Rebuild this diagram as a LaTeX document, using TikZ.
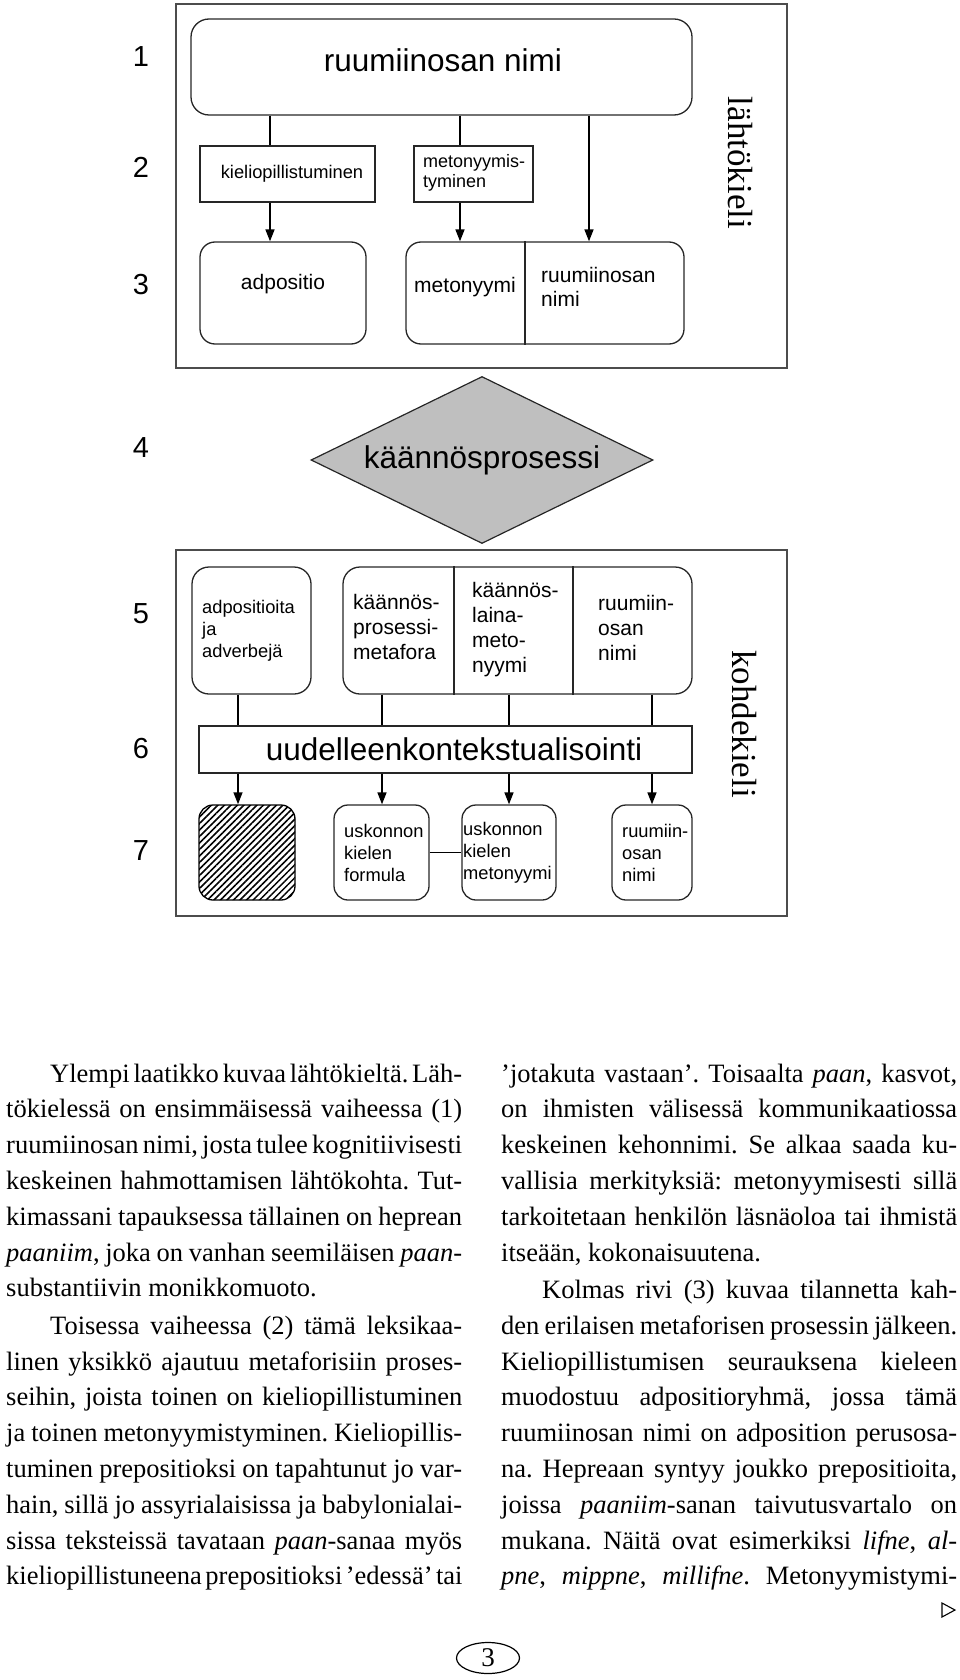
\documentclass[tikz,border=0pt]{standalone}
\usepackage{fontspec}
\setmainfont{Liberation Serif}
\newfontfamily\sansf{Liberation Sans}
\usetikzlibrary{arrows.meta,shapes.geometric,patterns.meta}
\newlength\colw
\newcommand\jline[1]{\hbox to\colw{#1}}
\newcommand\lline[1]{\hbox{#1}}
\newcommand\mkbox[6]{\node[#6, minimum width={#4-#2}, minimum height={#5-#3}] (#1) at ({(#2+#4)/2},{(#3+#5)/2}) {};}
\newcommand\bodyset{\fontsize{26.5}{35.8}\selectfont\frenchspacing\spaceskip=0.25em plus 0.5em minus 0.12em\baselineskip=35.8pt\colw=456pt}
\begin{document}
\begin{tikzpicture}[x=1pt,y=-1pt,
  bx/.style={draw=black!85,line width=1.3pt,inner sep=0pt},
  rbx/.style={bx,rounded corners=15pt},
  frame/.style={draw=black!70,line width=1.3pt,inner sep=0pt},
  ln/.style={line width=1.6pt},
  arr/.style={line width=1.6pt,-{Triangle[length=12pt,width=9pt]}},
  big/.style={inner sep=0pt,font=\sansf\fontsize{31.5}{36}\selectfont},
  num/.style={inner sep=0pt,font=\sansf\fontsize{29}{32}\selectfont},
  mid/.style={inner sep=0pt,align=left,font=\sansf\fontsize{21}{25}\selectfont},
  sml/.style={inner sep=0pt,align=left,font=\sansf\fontsize{18.3}{22}\selectfont},
  side/.style={inner sep=0pt,rotate=-90,font=\fontsize{35}{40}\selectfont}]
\useasboundingbox (0,0) rectangle (960,1680);

% ---------- upper frame (source language)
\mkbox{ftop}{176}{4}{787}{368}{frame}
\mkbox{top}{191}{19}{692}{115}{rbx,rounded corners=18pt}
\node[big] (toptx) at (443,60) {ruumiinosan nimi};
\mkbox{kiel}{200}{146}{375}{202}{bx}
\node[sml] (kieltx) at (292,174) {kieliopillistuminen};
\mkbox{meto}{414}{146}{533}{202}{bx}
\node[sml,anchor=west,font=\sansf\fontsize{18}{20}\selectfont] (metotx) at (423,173) {metonyymis-\\tyminen};
\mkbox{adpo}{200}{242}{366}{344}{rbx}
\node[mid] (adpotx) at (283,284) {adpositio};
\mkbox{mr}{406}{242}{684}{344}{rbx}
\coordinate (dA) at (525,0);
\draw[bx] (mr.north -| dA) -- (mr.south -| dA);
\node[mid] (mrtxa) at (465,287) {metonyymi};
\node[mid,anchor=west,font=\sansf\fontsize{21}{24}\selectfont] (mrtxb) at (541,287) {ruumiinosan\\nimi};
\coordinate (xa) at (270,0);
\coordinate (xb) at (460,0);
\coordinate (xc) at (589,0);
\draw[ln] (top.south -| xa) -- (kiel.north -| xa);
\draw[ln] (top.south -| xb) -- (meto.north -| xb);
\draw[arr] (kiel.south -| xa) -- (adpo.north -| xa);
\draw[arr] (meto.south -| xb) -- (mr.north -| xb);
\draw[arr] (top.south -| xc) -- (mr.north -| xc);
\node[side] (lahto) at (740,163) {lähtökieli};
\node[num] (n1) at (141,57) {1};
\node[num] (n2) at (141,167) {2};
\node[num] (n3) at (141,285) {3};

% ---------- diamond
\node[diamond,draw=black!85,fill=black!25,line width=1.2pt,shape aspect=2.05,
  minimum width=342pt,minimum height=167pt,inner sep=0pt,
  font=\sansf\fontsize{31.5}{36}\selectfont] (kp) at (482,460) {käännösprosessi};
\node[num] (n4) at (141,448) {4};

% ---------- lower frame (target language)
\mkbox{fbot}{176}{550}{787}{916}{frame}
\mkbox{ra}{192}{567}{311}{694}{rbx,rounded corners=17pt}
\node[sml,anchor=west] (ratx) at (202,631) {adpositioita\\ja\\adverbejä};
\mkbox{rb}{343}{567}{692}{694}{rbx,rounded corners=17pt}
\coordinate (dB) at (454,0);
\coordinate (dC) at (573,0);
\draw[bx] (rb.north -| dB) -- (rb.south -| dB);
\draw[bx] (rb.north -| dC) -- (rb.south -| dC);
\node[mid,anchor=west] (rbtxa) at (353,627) {käännös-\\prosessi-\\metafora};
\node[mid,anchor=west] (rbtxb) at (472,630) {käännös-\\laina-\\meto-\\nyymi};
\node[mid,anchor=west] (rbtxc) at (598,628) {ruumiin-\\osan\\nimi};
\mkbox{uu}{199}{726}{692}{773}{bx}
\node[big] (uutx) at (454,749) {uudelleenkontekstualisointi};
\mkbox{hh}{199}{805}{295}{900}{rbx,rounded corners=14pt,draw=black,pattern={Lines[angle=45,distance=4.6pt,line width=1.5pt]}}
\mkbox{ff}{334}{805}{429}{900}{rbx,rounded corners=14pt}
\node[sml,anchor=west] (fftx) at (344,853) {uskonnon\\kielen\\formula};
\mkbox{mm}{462}{805}{556}{900}{rbx,rounded corners=14pt}
\node[sml,anchor=west] (mmtx) at (463,853) {uskonnon\\kielen\\metonyymi};
\mkbox{rr}{612}{805}{692}{900}{rbx,rounded corners=14pt}
\node[sml,anchor=west] (rrtx) at (622,853) {ruumiin-\\osan\\nimi};
\draw[ln] (ff.east) -- (mm.west);
\coordinate (x1) at (238,0);
\coordinate (x2) at (382,0);
\coordinate (x3) at (509,0);
\coordinate (x4) at (652,0);
\draw[ln] (ra.south -| x1) -- (uu.north -| x1);
\draw[ln] (rb.south -| x2) -- (uu.north -| x2);
\draw[ln] (rb.south -| x3) -- (uu.north -| x3);
\draw[ln] (rb.south -| x4) -- (uu.north -| x4);
\draw[arr] (uu.south -| x1) -- (hh.north -| x1);
\draw[arr] (uu.south -| x2) -- (ff.north -| x2);
\draw[arr] (uu.south -| x3) -- (mm.north -| x3);
\draw[arr] (uu.south -| x4) -- (rr.north -| x4);
\node[side] (kohde) at (744,724) {kohdekieli};
\node[num] (n5) at (141,614) {5};
\node[num] (n6) at (141,749) {6};
\node[num] (n7) at (141,851) {7};

% ---------- body text
\node[anchor=base west,inner sep=0pt] (colL) at (6,1082) {\vtop{\bodyset
\jline{\hskip44pt Ylempi laatikko kuvaa lähtökieltä. Läh-}
\jline{tökielessä on ensimmäisessä vaiheessa (1)}
\jline{ruumiinosan nimi, josta tulee kognitiivisesti}
\jline{keskeinen hahmottamisen lähtökohta. Tut-}
\jline{kimassani tapauksessa tällainen on heprean}
\jline{\textit{paaniim}, joka on vanhan seemiläisen \textit{paan}-}
\lline{substantiivin monikkomuoto.}
\vskip1.7pt
\jline{\hskip44pt Toisessa vaiheessa (2) tämä leksikaa-}
\jline{linen yksikkö ajautuu metaforisiin proses-}
\jline{seihin, joista toinen on kieliopillistuminen}
\jline{ja toinen metonyymistyminen. Kieliopillis-}
\jline{tuminen prepositioksi on tapahtunut jo var-}
\jline{hain, sillä jo assyrialaisissa ja babylonialai-}
\jline{sissa teksteissä tavataan \textit{paan}-sanaa myös}
\jline{kieliopillistuneena prepositioksi ’edessä’ tai}
}};
\node[anchor=base west,inner sep=0pt] (colR) at (501,1082) {\vtop{\bodyset
\jline{’jotakuta vastaan’. Toisaalta \textit{paan}, kasvot,}
\jline{on ihmisten välisessä kommunikaatiossa}
\jline{keskeinen kehonnimi. Se alkaa saada ku-}
\jline{vallisia merkityksiä: metonyymisesti sillä}
\jline{tarkoitetaan henkilön läsnäoloa tai ihmistä}
\lline{itseään, kokonaisuutena.}
\vskip1.7pt
\jline{\hskip41pt Kolmas rivi (3) kuvaa tilannetta kah-}
\jline{den erilaisen metaforisen prosessin jälkeen.}
\jline{Kieliopillistumisen seurauksena kieleen}
\jline{muodostuu adpositioryhmä, jossa tämä}
\jline{ruumiinosan nimi on adposition perusosa-}
\jline{na. Hepreaan syntyy joukko prepositioita,}
\jline{joissa \textit{paaniim}-sanan taivutusvartalo on}
\jline{mukana. Näitä ovat esimerkiksi \textit{lifne}, \textit{al}-}
\jline{\textit{pne}, \textit{mippne}, \textit{millifne}. Metonyymistymi-}
}};

% ---------- footer
\draw[line width=1.1pt,line join=miter] (942,1603) -- (955,1610) -- (942,1617) -- cycle;
\node[ellipse,draw,line width=1.2pt,minimum width=63pt,minimum height=31pt,inner sep=0pt,
  font=\fontsize{27}{30}\selectfont] (pg) at (488,1658) {3};
\end{tikzpicture}
\end{document}
